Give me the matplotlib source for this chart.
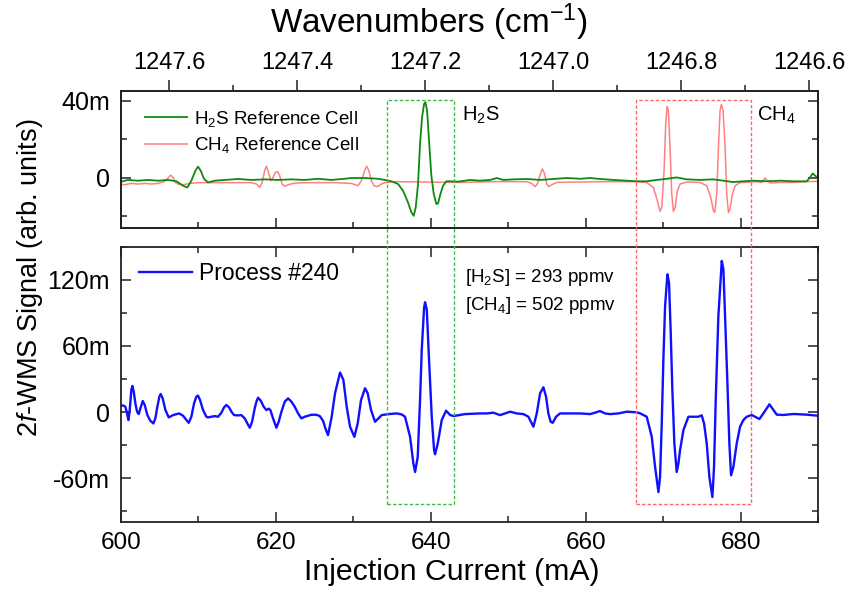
import matplotlib
matplotlib.use('Agg')
import matplotlib.pyplot as plt
from matplotlib.ticker import MultipleLocator, FuncFormatter, FormatStrFormatter
from matplotlib.patches import Rectangle
import matplotlib.transforms as mtransforms

plt.rcParams['font.family'] = ['Liberation Sans', 'DejaVu Sans']
plt.rcParams['mathtext.fontset'] = 'custom'
plt.rcParams['mathtext.rm'] = 'Liberation Sans'
plt.rcParams['mathtext.it'] = 'Liberation Sans:italic'
plt.rcParams['mathtext.bf'] = 'Liberation Sans:bold'
plt.rcParams['axes.unicode_minus'] = False

# ---------------- data (injection current in mA, signal in milli-units) -------------
current_process = [599.83, 600.26, 600.56, 600.78, 600.95, 601.12, 601.33, 601.46, 601.64, 601.85,
                   602.07, 602.28, 602.50, 602.80, 603.06, 603.40, 603.79, 604.18, 604.43, 604.69,
                   604.95, 605.12, 605.38, 605.73, 606.16, 606.72, 607.49, 608.01, 608.44, 608.74,
                   609.08, 609.43, 609.73, 609.94, 610.20, 610.59, 611.02, 611.24, 611.67, 612.10,
                   612.53, 612.96, 613.30, 613.60, 613.95, 614.25, 614.59, 615.11, 615.54, 615.97,
                   616.31, 616.62, 616.92, 617.26, 617.48, 617.69, 618.04, 618.42, 618.77, 619.07,
                   619.28, 619.63, 620.06, 620.36, 620.71, 621.14, 621.57, 622.00, 622.43, 622.86,
                   623.29, 623.72, 624.58, 625.22, 625.66, 626.09, 626.39, 626.73,
                   627.20, 627.63, 628.28, 628.71, 629.14, 629.57, 630.13, 630.56, 630.99, 631.51,
                   631.85, 632.28, 632.80, 633.23, 633.66, 634.52, 635.60, 636.24, 636.67, 637.32,
                   637.75, 637.97, 638.31, 638.61, 638.83, 639.13, 639.26, 639.48, 639.77, 640.12,
                   640.42, 640.55, 640.90, 641.41, 641.97, 642.49, 642.92, 644.42,
                   646.36, 647.22, 648.08, 648.94, 649.59, 650.23, 651.09, 651.95, 652.60, 653.25,
                   653.68, 654.11, 654.54, 654.88, 655.18, 655.48, 655.74, 656.17, 656.69, 657.98,
                   659.27, 660.56, 661.21, 661.85, 662.50, 663.15, 664.22, 665.30, 666.59,
                   667.02, 667.88, 668.53, 668.96, 669.39, 669.60, 669.82, 670.03, 670.25, 670.55,
                   670.76, 670.98, 671.19, 671.45, 671.75, 671.97, 672.18, 672.62, 673.26, 673.91,
                   674.55, 674.98, 675.28, 675.63, 675.97, 676.36, 676.57, 676.79, 677.13, 677.57,
                   677.78, 678.00, 678.30, 678.55, 678.77, 679.07, 679.50, 679.93, 680.36, 680.79,
                   681.44, 681.87, 682.43, 682.95, 683.72, 684.24, 684.67, 685.53, 686.82, 688.54,
                   690.00]
signal_process = [5.4, 6.0, 4.8, -1.3, -7.3, 1.8, 20.1, 23.7, 18.5, 7.9,
                  0.3, -1.9, 3.3, 10.0, 6.4, -2.8, -8.0, -10.4, -5.8, 4.8,
                  14.0, 16.4, 12.4, 1.8, -4.9, -2.8, -1.3, -3.4, -7.3, -9.8,
                  -4.3, 7.9, 14.0, 14.9, 10.9, 1.8, -4.3, -4.9, -4.3, -3.7,
                  -4.3, -0.6, 4.2, 6.4, 4.2, 0.3, -2.8, -3.1, -2.8, -5.8,
                  -10.4, -14.3, -8.9, 3.3, 9.4, 13.0, 10.3, 4.8, 1.8, 3.0,
                  1.8, -5.8, -14.3, -8.9, 0.3, 9.4, 12.4, 9.4, 4.8, -1.3,
                  -5.8, -4.3, -2.5, -2.5, -3.7, -8.0, -15.0, -21.0,
                  -4.3, 17.0, 35.9, 29.2, 4.8, -13.4, -22.6, -10.4, 10.9, 21.6,
                  17.0, 1.8, -8.9, -5.8, -2.8, -1.9, -1.3, -2.2, -4.3, -22.5,
                  -46.9, -54.5, -40.8, 11.0, 56.6, 94.7, 99.8, 93.1, 47.5, -4.3,
                  -34.7, -38.4, -28.6, -7.3, 1.2, -2.7, -3.7, -1.9,
                  -1.3, -1.3, -0.6, -2.8, -1.3, 0.3, -1.3, -1.9, -4.3, -13.4,
                  -1.3, 17.0, 22.5, 14.0, -1.3, -8.9, -9.8, -4.3, -1.3, -1.3,
                  -1.3, -1.9, -0.6, 0.9, -1.3, -1.9, -1.3, 0.3, -0.3,
                  -1.2, -4.3, -22.5, -49.9, -72.8, -59.1, -10.3, 47.5, 96.2, 125.1,
                  117.5, 71.8, 20.1, -28.6, -54.5, -46.9, -34.7, -16.4, -4.3, -4.3,
                  -4.3, -3.0, -10.3, -28.6, -59.1, -77.3, -49.9, 11.0, 87.0, 137.3,
                  129.7, 87.0, 26.2, -28.6, -57.5, -49.9, -28.6, -13.4, -7.3, -4.3,
                  -2.7, -4.3, -6.4, -1.2, 7.0, 1.8, -2.4, -2.7, -1.8, -2.4,
                  -3.4]

current_h2s = [599.61, 600.26, 600.90, 602.20, 603.49, 604.78, 606.07, 607.15, 608.01, 608.57,
               609.08, 609.60, 609.94, 610.29, 610.72, 611.24, 612.10, 613.39, 615.11, 616.83,
               618.55, 620.27, 621.99, 623.72, 625.44, 627.16, 628.88, 629.74, 631.46, 633.19,
               634.05, 634.91, 635.77, 636.41, 637.06, 637.49, 637.79, 638.05, 638.35, 638.61,
               638.87, 639.13, 639.30, 639.52, 639.77, 640.07, 640.38, 640.72, 640.93, 641.24,
               641.58, 642.01, 642.66, 643.52, 645.07, 646.36, 647.65, 648.51, 649.37, 650.66,
               652.38, 654.11, 655.83, 657.55, 659.27, 660.56, 661.85, 663.58, 665.30, 666.59,
               667.88, 669.17, 670.46, 671.75, 673.05, 674.77, 676.49, 677.78, 679.07, 680.36,
               681.65, 683.38, 685.10, 686.82, 688.54, 688.97, 689.32, 689.62, 689.92]
signal_h2s = [-1.5, -1.8, -1.1, -1.5, -1.1, -1.5, -1.1, -1.8, -4.1, -5.0,
              -1.5, 3.7, 5.8, 3.7, -0.6, -2.4, -1.5, -1.1, -0.6, -1.1,
              -0.8, -1.1, -0.8, -1.1, -0.5, -1.1, -0.5, -0.1, -0.1, -0.5,
              -1.1, -1.8, -3.2, -6.7, -12.8, -17.9, -19.7, -15.4, -3.2, 17.6,
              31.4, 38.3, 39.2, 34.9, 19.3, 1.1, -8.4, -13.6, -13.3, -8.4,
              -4.1, -1.8, -1.8, -2.0, -1.1, -1.5, -1.1, -0.1, -1.1, -0.8,
              -0.6, -1.1, -0.6, -0.1, -0.5, -0.1, -0.6, -1.1, -1.5, -1.8,
              -1.8, -1.1, -0.5, 0.2, -0.8, -1.1, -0.8, -1.5, -2.2, -1.8,
              -1.5, -1.8, -1.5, -1.8, -1.8, 0.2, 2.3, 1.1, 0.2]

current_ch4 = [599.61, 600.47, 601.33, 602.20, 603.06, 603.92, 604.78, 605.64, 606.07, 606.41,
               606.72, 607.02, 607.36, 608.01, 608.87, 609.94, 612.53, 615.11, 616.83, 617.48,
               617.91, 618.21, 618.55, 618.77, 618.98, 619.33, 619.63, 619.93, 620.19, 620.49,
               620.79, 621.14, 621.57, 622.43, 624.58, 627.59, 629.74, 630.60, 631.03, 631.46,
               631.72, 631.98, 632.33, 632.67, 633.10, 633.62, 634.05, 635.34, 643.78, 648.08,
               652.38, 653.03, 653.46, 653.76, 654.11, 654.41, 654.67, 654.97, 655.23, 655.61,
               656.26, 658.84, 663.15, 666.16, 667.88, 668.74, 669.26, 669.60, 669.82, 670.12,
               670.33, 670.51, 670.68, 670.89, 671.11, 671.32, 671.54, 671.84, 672.19, 673.05,
               674.77, 675.63, 676.15, 676.49, 676.66, 676.92, 677.14, 677.35, 677.52, 677.74,
               678.00, 678.21, 678.43, 678.64, 678.94, 679.29, 679.93, 681.22, 682.08, 682.73,
               683.16, 683.46, 683.81, 685.10, 686.82, 688.54, 689.83]
signal_ch4 = [-3.2, -3.6, -2.9, -3.2, -2.9, -3.2, -2.9, -1.8, -0.1, 1.4,
              0.2, -2.4, -3.2, -3.6, -2.9, -2.5, -2.5, -2.5, -2.5, -3.2,
              -5.0, -2.4, 3.7, 6.0, 3.7, -1.5, 0.2, 2.8, 3.2, 1.1,
              -3.2, -4.4, -3.6, -2.7, -2.5, -2.5, -2.9, -4.1, -1.5, 3.7,
              6.0, 4.0, -1.5, -4.1, -4.6, -3.2, -2.5, -2.0, -2.4, -2.0,
              -2.0, -2.9, -4.6, -3.2, 1.6, 4.6, 2.3, -3.2, -4.6, -3.6,
              -2.4, -2.2, -2.0, -2.0, -2.4, -5.0, -11.9, -17.4, -15.4, 3.7,
              27.9, 37.0, 34.9, 15.8, -8.4, -17.4, -15.4, -6.7, -3.2, -2.2,
              -2.4, -4.1, -10.2, -17.1, -18.0, -8.4, 15.8, 34.9, 38.0, 34.9,
              15.8, -8.4, -18.0, -16.2, -8.4, -4.1, -2.5, -2.2, -2.0, -2.4,
              -0.1, -1.5, -2.7, -2.4, -2.4, -2.0, -1.8]

# boxes marking the absorption features (mA)
h2s_box = (634.39, 643.04)
ch4_box = (666.45, 681.40)

# wavenumber calibration: 1247.6 cm-1 at 606.24 mA, slope -0.012101 cm-1/mA
wn_ref, i_ref, wn_slope = 1247.6, 606.24, -0.012101


def wavenumber(i):
    return wn_ref + (i - i_ref) * wn_slope


# ---------------- figure -------------
fig = plt.figure(figsize=(8.47, 5.92), dpi=100)
ax1 = fig.add_axes([0.1429, 0.6149, 0.8229, 0.2314])
ax2 = fig.add_axes([0.1429, 0.1182, 0.8229, 0.4646])

l_ch4, = ax1.plot(current_ch4, signal_ch4, color='#ff8080', lw=1.1)
l_h2s, = ax1.plot(current_h2s, signal_h2s, color='#0f8a0f', lw=1.3)
ax2.plot(current_process, signal_process, color='#1010ff', lw=1.7, label='Process #240')

fmt = FuncFormatter(lambda v, p: '0' if abs(v) < 1e-9 else f'{v:g}m')

for ax in (ax1, ax2):
    ax.set_xlim(600, 690)
    ax.xaxis.set_major_locator(MultipleLocator(20))
    ax.xaxis.set_minor_locator(MultipleLocator(10))
    ax.yaxis.set_major_formatter(fmt)
    for s in ax.spines.values():
        s.set_linewidth(1.3)
        s.set_color('#222222')
    ax.tick_params(which='both', direction='in', right=True, width=1.1, color='#222222',
                   labelsize=17.5)
    ax.tick_params(which='major', length=7)
    ax.tick_params(which='minor', length=4)
    ax.tick_params(axis='y', pad=8, labelsize=18)

ax1.set_ylim(-26, 45)
ax1.yaxis.set_major_locator(MultipleLocator(40))
ax1.yaxis.set_minor_locator(MultipleLocator(20))
ax1.tick_params(which='both', top=False, labelbottom=False)

ax2.set_ylim(-100, 150)
ax2.yaxis.set_major_locator(MultipleLocator(60))
ax2.yaxis.set_minor_locator(MultipleLocator(30))
ax2.tick_params(which='both', top=True)
ax2.tick_params(axis='x', pad=7)

# top wavenumber axis
axw = ax1.twiny()
axw.set_xlim(wavenumber(600), wavenumber(690))
axw.xaxis.set_major_locator(MultipleLocator(0.2))
axw.xaxis.set_minor_locator(MultipleLocator(0.1))
axw.xaxis.set_major_formatter(FormatStrFormatter('%.1f'))
axw.tick_params(axis='x', which='both', direction='out', width=1.1, color='#222222',
                labelsize=17, pad=4)
axw.tick_params(axis='x', which='major', length=8)
axw.tick_params(axis='x', which='minor', length=4)
for s in axw.spines.values():
    s.set_linewidth(1.3)
    s.set_color('#222222')

# legends
ax1.legend([l_h2s, l_ch4], [r'H$_2$S Reference Cell', r'CH$_4$ Reference Cell'],
           loc='upper left', bbox_to_anchor=(0.035, 0.87), frameon=False, fontsize=13.5,
           borderpad=0, borderaxespad=0, handlelength=2.2, handletextpad=0.4,
           labelspacing=0.35)
ax2.legend(loc='upper left', bbox_to_anchor=(0.026, 0.945), frameon=False, fontsize=16.5,
           borderpad=0, borderaxespad=0, handlelength=2.3, handletextpad=0.3)

# labels
ax1.text(644.0, 32.5, r'H$_2$S', fontsize=14.5, va='center', ha='left')
ax1.text(682.1, 32.5, r'CH$_4$', fontsize=14.5, va='center', ha='left')
ax2.text(644.4, 122.0, r'[H$_2$S] = 293 ppmv', fontsize=13.5, va='center', ha='left')
ax2.text(644.4, 96.5, r'[CH$_4$] = 502 ppmv', fontsize=13.5, va='center', ha='left')

t_top = fig.text(0.5065, 0.963, r'Wavenumbers (cm$^{-1}$)', fontsize=20, ha='center', va='center')
t_bot = fig.text(0.5337, 0.034, 'Injection Current (mA)', fontsize=20, ha='center', va='center')
fig.text(0.035, 0.531, r'2$f$-WMS Signal (arb. units)', fontsize=19.5, rotation=90,
         ha='center', va='center')

# scale horizontal axis titles so that their widths match the reference (pixels)
renderer = fig.canvas.get_renderer()
for t, target in ((t_top, 318), (t_bot, 295)):
    bb = t.get_window_extent(renderer)
    t.set_fontsize(t.get_fontsize() * target / bb.width)

# dashed boxes spanning both panels
trans = mtransforms.blended_transform_factory(ax2.transData, fig.transFigure)
yb, yt = 1 - 504.3 / 592, 1 - 99.7 / 592
for (x0, x1), col in ((h2s_box, '#44bb44'), (ch4_box, '#ff6666')):
    fig.add_artist(Rectangle((x0, yb), x1 - x0, yt - yb, transform=trans, fill=False,
                             edgecolor=col, lw=1.0, linestyle=(0, (2.5, 1.5)), zorder=5))

fig.savefig('out.png', dpi=100)
